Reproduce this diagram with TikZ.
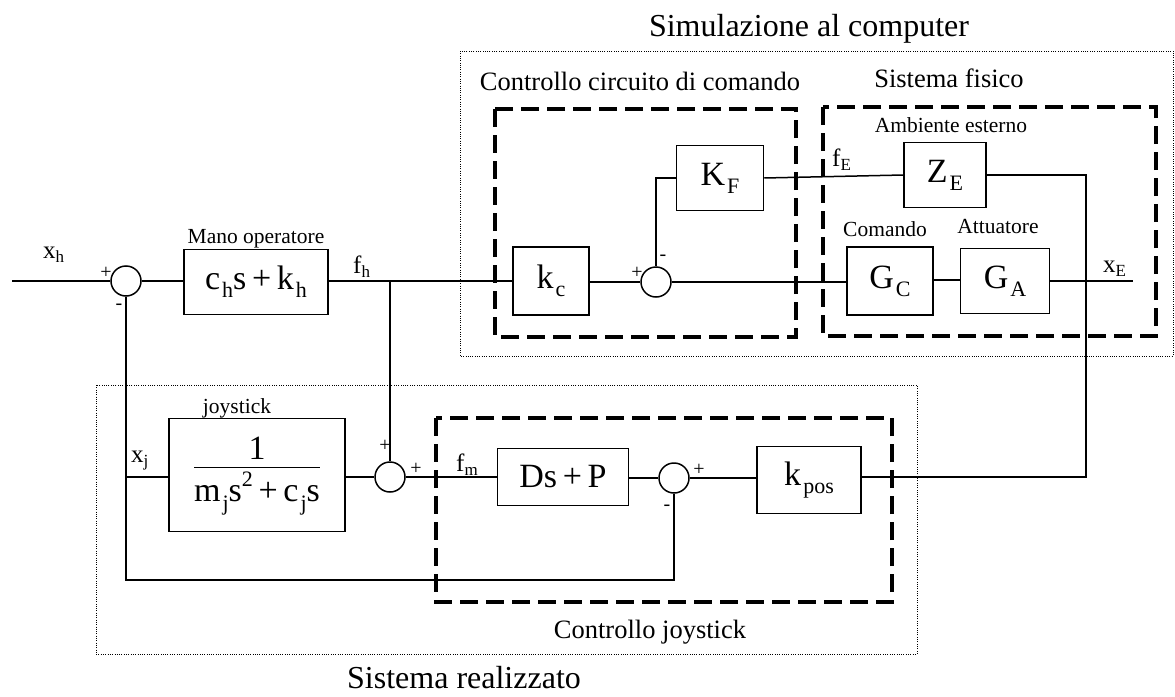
\documentclass[tikz,border=0pt]{standalone}
\usepackage{fontspec}
\setmainfont{Liberation Serif}
% lowered subscript and raised superscript in block labels
\newcommand\lsub[2][22]{\hspace{0.06em}\raisebox{-0.24em}{\fontsize{#1}{#1}\selectfont #2}}
\newcommand\usup[2][22]{\raisebox{0.45em}{\fontsize{#1}{#1}\selectfont #2}}
\newcommand\sig[2]{{\fontsize{25}{25}\selectfont #1\raisebox{-0.18em}{\fontsize{17}{17}\selectfont #2}}}
\begin{document}
\begin{tikzpicture}[x=1pt,y=-1pt,
  blk/.style={draw,line width=1.5pt,inner sep=0pt,font=\fontsize{34}{34}\selectfont},
  sumj/.style={circle,draw,line width=1.5pt,minimum size=30pt,inner sep=0pt},
  wire/.style={line width=1.5pt},
  grp/.style={line width=4.5pt,dash pattern=on 18pt off 8pt},
  zone/.style={line width=0.9pt,dash pattern=on 1pt off 1.3pt},
  big/.style={anchor=base,font=\fontsize{32}{32}\selectfont,inner sep=0pt},
  mid/.style={anchor=base,font=\fontsize{26.5}{26.5}\selectfont},
  small/.style={anchor=base,font=\fontsize{21.5}{21.5}\selectfont},
  sgn/.style={font=\fontsize{20}{20}\selectfont,inner sep=0pt}]
\useasboundingbox (0,0) rectangle (1175,696);

% dotted areas and dashed groups
\draw[zone] (460,51) rectangle (1173,356);
\draw[zone] (96,385) rectangle (917,654);
\draw[grp] (495,109) rectangle (796,337);
\draw[grp] (823,107) rectangle (1156,336);
\draw[grp] (436,418) rectangle (892,602);

% titles
\node[big] (tsim) at (809,36) {Simulazione al computer};
\node[big] (treal) at (464,688) {Sistema realizzato};
\node[mid] (tcc) at (640,90) {Controllo circuito di comando};
\node[mid] (tsf) at (949,87) {Sistema fisico};
\node[mid] (tcj) at (650,638) {Controllo joystick};
\node[small] (tamb) at (951,132) {Ambiente esterno};
\node[small] (tcom) at (885,236) {Comando};
\node[small] (tatt) at (998,233) {Attuatore};
\node[small] (tmano) at (256,243) {Mano operatore};
\node[small] (tjoy) at (237,413) {joystick};

% summing junctions
\node[sumj] (s1) at (126,281) {};
\node[sumj] (s2) at (656,282) {};
\node[sumj] (s3) at (390,477) {};
\node[sumj] (s4) at (674,478) {};

% blocks
\node[blk,minimum width=144pt,minimum height=65pt] (ch) at (256,282) {c\lsub{h}s\,+\,k\lsub{h}};
\node[blk,minimum width=76pt,minimum height=68pt] (kc) at (551,281) {k\lsub{c}};
\node[blk,minimum width=87pt,minimum height=65pt] (kf) at (720,178) {K\lsub{F}};
\node[blk,minimum width=82pt,minimum height=65pt] (ze) at (945,175) {Z\lsub{E}};
\node[blk,minimum width=86pt,minimum height=68pt] (gc) at (890,281) {G\lsub{C}};
\node[blk,minimum width=89pt,minimum height=65pt] (ga) at (1005,281) {G\lsub{A}};
\node[blk,minimum width=176pt,minimum height=113pt] (joy) at (257,475)
  {\begin{tabular}{@{}c@{}}\rule[-6pt]{0pt}{30pt}1\\[-2pt]\hline\rule{0pt}{34pt}m\lsub{j}s\usup{2}\,+\,c\lsub{j}s\end{tabular}};
\node[blk,minimum width=131pt,minimum height=57pt] (dsp) at (563,477) {Ds\,+\,P};
\node[blk,minimum width=104pt,minimum height=67pt] (kpos) at (809,480) {k\lsub{pos}};

% free ends and corners
\coordinate (xin) at (12,281);
\coordinate (xout) at (1133,281);
\coordinate (br) at (390,281);
\coordinate (bj) at (126,477);
\coordinate (bl) at (126,580);
\coordinate (cr) at (1086,477);

% upper chain
\draw[wire] (xin) -- (s1.west);
\draw[wire] (s1.east) -- (ch.west |- s1.east);
\draw[wire] (ch.east |- br) -- (kc.west |- br);
\draw[wire] (kc.east |- s2.west) -- (s2.west);
\draw[wire] (s2.east) -- (gc.west |- s2.east);
\draw[wire] (gc.east |- 0,280) -- (ga.west |- 0,280);
\draw[wire] (ga.east |- xout) -- (xout);
\draw[wire] (s2.north) |- (kf.west);
\draw[wire] (kf.east) -- (ze.west);
\draw[wire] (ze.east) -| (cr) -- (kpos.east |- cr);
\draw[wire] (br) -- (s3.north);

% lower chain
\draw[wire] (s1.south) -- (bl) -| (s4.south);
\draw[wire] (bj) -- (joy.west |- bj);
\draw[wire] (joy.east |- s3.west) -- (s3.west);
\draw[wire] (s3.east) -- (dsp.west |- s3.east);
\draw[wire] (dsp.east |- s4.west) -- (s4.west);
\draw[wire] (s4.east) -- (kpos.west |- s4.east);

% signal names
\node[anchor=base west,inner sep=0pt] (lxh) at (43,258) {\sig{x}{h}};
\node[anchor=base west,inner sep=0pt] (lfh) at (353,273) {\sig{f}{h}};
\node[anchor=base west,inner sep=0pt] (lfe) at (832,166) {\sig{f}{E}};
\node[anchor=base west,inner sep=0pt] (lxe) at (1103,272) {\sig{x}{E}};
\node[anchor=base west,inner sep=0pt] (lxj) at (131,462) {\sig{x}{j}};
\node[anchor=base west,inner sep=0pt] (lfm) at (456,471) {\sig{f}{m}};

% junction signs
\node[sgn] (p1) at (106,273) {+};
\node[sgn] (m1) at (119,307) {-};
\node[sgn] (p2) at (637,273) {+};
\node[sgn] (m2) at (663,258) {-};
\node[sgn] (p3a) at (385,446) {+};
\node[sgn] (p3b) at (416,469) {+};
\node[sgn] (p4) at (699,470) {+};
\node[sgn] (m4) at (667,508) {-};
\end{tikzpicture}
\end{document}
